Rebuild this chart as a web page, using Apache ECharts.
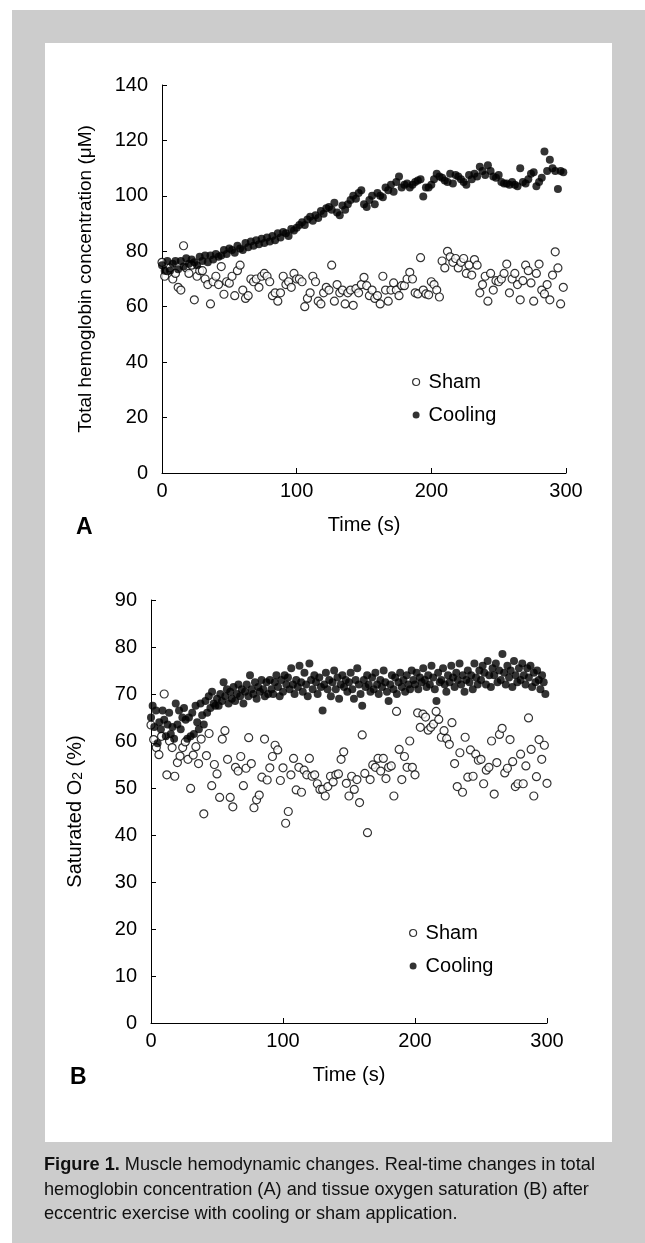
<!DOCTYPE html>
<html>
<head>
<meta charset="utf-8">
<script src="https://cdn.jsdelivr.net/npm/echarts@6/dist/echarts.min.js"></script>
<style>
  html, body { margin: 0; padding: 0; background: #fff; }
  #frame { position: absolute; left: 12px; top: 10px; width: 633px; height: 1233px; background: #cccccc; }
  #panel { position: absolute; left: 45px; top: 43px; width: 567px; height: 1099px; background: #fff; }
  #chart { position: absolute; left: 0; top: 0; width: 645px; height: 1243px; }
  #caption { position: absolute; left: 44px; top: 1152px; width: 590px; color: #111;
             font: 18.2px 'Liberation Sans', Arial, sans-serif; line-height: 24.5px; white-space: nowrap; }
</style>
</head>
<body>
<div id="frame"></div>
<div id="panel"></div>
<div id="chart"></div>
<div id="caption"><b>Figure 1.</b> Muscle hemodynamic changes. Real-time changes in total<br>hemoglobin concentration (A) and tissue oxygen saturation (B) after<br>eccentric exercise with cooling or sham application.</div>
<script>
// sampling step of each recording (s)
const DT_SHAM_A = 2;
const DT_COOL_A = 2;
const DT_SHAM_B = 2;
const DT_COOL_B = 1.25;

// A: total hemoglobin concentration (uM)
const shamA = [
  76, 71, 73, 74, 70, 72, 67, 66, 82, 74,
  72, 75, 62.5, 71, 73, 73, 70, 68, 61, 69,
  71, 68, 74.5, 64.5, 69, 68.5, 71, 64, 73, 75,
  66, 63, 64, 70, 69, 70, 67, 71, 72, 71,
  69, 64, 65, 62, 65, 71, 68, 69, 67, 72,
  70, 70, 69, 60, 63, 65, 71, 69, 62, 61,
  65, 67, 66, 75, 62, 68, 65, 66, 61, 65,
  66, 60.5, 66.5, 65, 68, 70.6, 67.6, 64, 66, 63,
  64, 61, 71, 66, 62, 66, 68.6, 66, 64, 67.6,
  67.6, 70, 72.4, 70, 65, 64.6, 77.7, 66, 64.6, 64.3,
  69, 68, 66, 63.5, 76.5, 74, 80, 78, 76, 77.4,
  74, 76, 77.4, 72, 75, 71.4, 77, 75, 65, 68,
  71, 62, 72, 66, 69.4, 69, 70, 72, 75.4, 65,
  70, 72, 68, 62.5, 69.4, 75, 73, 68.6, 62, 72,
  75.4, 66, 64.6, 68, 62.5, 71.4, 79.8, 74, 61, 67
];
const coolA = [
  75, 73, 76.5, 73, 75.5, 76.5, 73.5, 76.5, 74.5, 77.5,
  75.5, 77, 76, 75, 78, 76.5, 78.5, 76, 78.5, 77,
  79, 78, 78.5, 80.5, 79, 81, 80.5, 79.5, 82, 81,
  80.5, 83, 81.5, 83.5, 82, 84, 82.5, 84.5, 83, 85,
  83.5, 85.5, 84, 86.5, 85, 87, 86.5, 85.5, 88, 87.5,
  88.5, 89.5, 90.5, 89.5, 91.5, 92.5, 91, 93, 92, 94.5,
  93.5, 95.5, 96, 95, 97.5, 94, 93, 96.5, 95, 97,
  98.5, 100, 99, 101, 102, 97, 96, 98.5, 100, 97,
  101, 100, 99.5, 103, 102, 104, 101.5, 105, 107, 103,
  104, 104.5, 103, 104, 105, 105.5, 106, 99.8, 103, 103,
  104, 106, 108, 107, 106.5, 105.5, 105, 108, 104.5, 107.5,
  107, 106, 105, 104, 107.5, 106, 108, 107, 110.5, 109,
  107.5, 111, 109, 107, 106.5, 107.5, 105, 104.5, 104.5, 104,
  105, 104, 103.5, 110, 105, 104.5, 106, 108, 108.5, 103.5,
  105, 106.5, 116, 109, 113, 110, 109, 102.5, 109, 108.5
];

// B: saturated O2 (%)
const shamB = [
  63.4, 60.3, 58.6, 57.1, 61, 70, 52.8, 60, 58.6, 52.5,
  55.4, 56.8, 58.6, 59.8, 56.1, 49.9, 57, 58.8, 55.2, 60.4,
  44.5, 56.9, 61.6, 50.5, 55, 53, 48, 60.4, 62.2, 56.1,
  48, 46, 54.4, 53.6, 56.7, 50.5, 54.2, 60.7, 55.2, 45.8,
  47.5, 48.5, 52.3, 60.4, 51.7, 54.3, 56.7, 59.1, 58.1, 51.6,
  54.3, 42.5, 45, 52.8, 56.3, 49.6, 54.4, 49.1, 53.8, 52.8,
  56.3, 52.5, 52.8, 50.9, 49.7, 49.7, 48.3, 50.3, 52.5, 51.3,
  52.8, 53, 56.1, 57.7, 51, 48.3, 52.5, 49.7, 51.8, 46.9,
  61.3, 53.1, 40.5, 51.8, 54.9, 54.4, 56.3, 53.6, 56.3, 52,
  54.4, 54.7, 48.3, 66.3, 58.2, 51.8, 56.7, 54.4, 60, 54.4,
  52.8, 66, 62.9, 65.7, 65.1, 62.3, 62.9, 63.6, 66.3, 64.6,
  60.8, 62.2, 60.5, 59.3, 63.9, 55.2, 50.3, 57.5, 49.1, 60.8,
  52.3, 58.1, 52.5, 57.2, 55.9, 56.1, 50.9, 53.8, 54.4, 60,
  48.7, 55.4, 61.4, 62.7, 53.2, 54.2, 60.3, 55.6, 50.3, 50.9,
  57.2, 50.9, 54.7, 64.9, 58.2, 48.3, 52.4, 60.3, 56.1, 59.1, 51
];
const coolB = [
  65, 67.5, 63, 66.5, 59.5, 64, 62.5, 66.5,
  64.5, 61, 63.5, 66, 61.5, 63, 60.5, 68,
  63.5, 66.5, 62.5, 65, 67, 64.5, 60.5, 65,
  61, 66, 61.5, 67.5, 64, 62.5, 68, 65.5,
  63.5, 68.5, 66, 69.5, 67, 70.5, 68, 67.5,
  69, 67.5, 70, 68.5, 72.5, 69.5, 71, 68,
  70.5, 69, 71.5, 68.5, 70, 72, 69.5, 71,
  68, 70.5, 72, 69.5, 74, 71, 70, 72.5,
  69, 71.5, 70.5, 73, 71, 69.5, 72.5, 70,
  73, 71, 70, 72.5, 74, 71.5, 69.5, 73,
  70.5, 74, 72, 73.5, 71, 75.5, 72, 70,
  73, 71.5, 76, 72.5, 70.5, 74.5, 72, 69.5,
  76.5, 73, 71, 74, 72.5, 70, 73.5, 71.5,
  66.5, 72, 74.5, 71, 73, 69.5, 72.5, 75,
  71, 73.5, 69, 72, 74, 71.5, 73, 70.5,
  72.5, 74.5, 71, 69, 73, 75.5, 72, 70,
  67.5, 73, 71.5, 74, 72, 70.5, 73.5, 71,
  74.5, 72, 70, 73, 71.5, 75, 72.5, 70.5,
  68.5, 72, 74, 71, 73.5, 70, 72.5, 74.5,
  71.5, 73, 70.5, 74, 72, 71, 75, 73,
  72, 74.5, 71, 73.5, 72.5, 75.5, 73, 71.5,
  74, 72, 76, 73.5, 71, 68.5, 74.5, 72.5,
  73, 75.5, 72, 70.5, 74, 72.5, 76, 73.5,
  71.5, 74.5, 73, 76.5, 72, 74, 70.5, 73,
  75, 72.5, 74, 71, 76.5, 73.5, 72, 75,
  73, 76, 74.5, 72, 77, 74, 71.5, 75.5,
  74, 76.5, 72.5, 75, 73, 78.5, 74.5, 72,
  76, 73.5, 75, 71.5, 77, 74, 72.5, 75.5,
  73, 76.5, 74, 72, 75.5, 73.5, 76, 71.5,
  74.5, 72.5, 75, 73, 71, 74, 72.5, 70
];

const xTicks = [0, 100, 200, 300];
const FONT = "'Liberation Sans', Arial, Helvetica, sans-serif";

function toPoints(vals, dt) {
  return vals.map((v, i) => [i * dt, v]);
}

const chart = echarts.init(document.getElementById('chart'), null, { renderer: 'canvas' });

const axisCommon = {
  axisLine: { lineStyle: { color: '#000', width: 1 } },
  axisTick: { inside: true, length: 5, lineStyle: { color: '#000', width: 1 } },
  splitLine: { show: false },
  nameTextStyle: { fontSize: 20, color: '#000', fontFamily: FONT },
};

function xAxisFor(i) {
  return Object.assign({}, axisCommon, {
    gridIndex: i, type: 'value', min: xTicks[0], max: xTicks[xTicks.length - 1], interval: 100,
    name: 'Time (s)', nameLocation: 'middle', nameGap: 42,
    axisLabel: { fontSize: 20, color: '#000', fontFamily: FONT, margin: 8 }
  });
}

const openDot = { color: '#fff', borderColor: '#000', borderWidth: 1.2 };
const fullDot = { color: '#000' };

function scatter(name, pts, xi, size, style) {
  return {
    name: name, type: 'scatter', xAxisIndex: xi, yAxisIndex: xi,
    data: pts, symbol: 'circle', symbolSize: size, itemStyle: style,
    silent: true, animation: false
  };
}

function legendAt(left, top) {
  return {
    orient: 'vertical', left: left, top: top, itemWidth: 7, itemHeight: 7, itemGap: 13,
    selectedMode: false, icon: 'circle',
    textStyle: { fontSize: 20, color: '#000', fontFamily: FONT, padding: [0, 0, 0, 4] },
    data: [
      { name: 'Sham', itemStyle: openDot },
      { name: 'Cooling', itemStyle: fullDot }
    ]
  };
}

const option = {
  animation: false,
  grid: [
    { left: 162, top: 85, width: 404, height: 388 },
    { left: 151, top: 600, width: 396, height: 423 }
  ],
  xAxis: [xAxisFor(0), xAxisFor(1)],
  yAxis: [
    Object.assign({}, axisCommon, {
      gridIndex: 0, type: 'value', min: 0, max: 140, interval: 20,
      name: 'Total hemoglobin concentration (\u03bcM)', nameLocation: 'middle', nameGap: 67, nameRotate: 90,
      nameTextStyle: { fontSize: 19, color: '#000', fontFamily: FONT },
      axisLabel: { fontSize: 20, color: '#000', fontFamily: FONT, margin: 14 }
    }),
    Object.assign({}, axisCommon, {
      gridIndex: 1, type: 'value', min: 0, max: 90, interval: 10,
      name: 'Saturated O{sub|2} (%)', nameLocation: 'middle', nameGap: 66, nameRotate: 90,
      nameTextStyle: {
        fontSize: 20, color: '#000', fontFamily: FONT,
        rich: { sub: { fontSize: 14, color: '#000', fontFamily: FONT, verticalAlign: 'bottom' } }
      },
      axisLabel: { fontSize: 20, color: '#000', fontFamily: FONT, margin: 14 }
    })
  ],
  legend: [legendAt(407, 367), legendAt(404, 918)],
  graphic: [
    { type: 'text', left: 76, top: 516, style: { text: 'A', font: 'bold 23px ' + FONT, fill: '#000' } },
    { type: 'text', left: 70, top: 1066, style: { text: 'B', font: 'bold 23px ' + FONT, fill: '#000' } }
  ],
  series: [
    scatter('Sham', toPoints(shamA, DT_SHAM_A), 0, 8, openDot),
    scatter('Cooling', toPoints(coolA, DT_COOL_A), 0, 8, fullDot),
    scatter('Sham', toPoints(shamB, DT_SHAM_B), 1, 8, openDot),
    scatter('Cooling', toPoints(coolB, DT_COOL_B), 1, 8, fullDot)
  ]
};

chart.setOption(option);
</script>
</body>
</html>
